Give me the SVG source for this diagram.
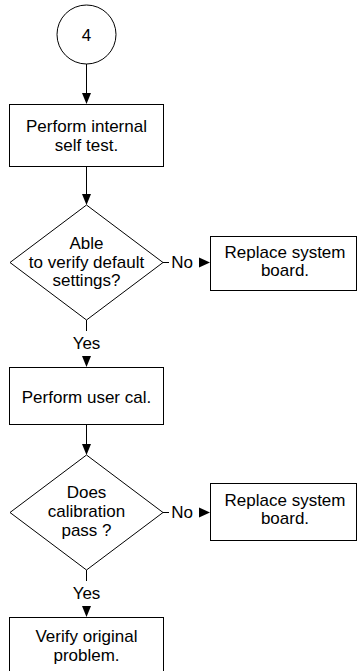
<svg xmlns="http://www.w3.org/2000/svg" width="357" height="671" viewBox="0 0 357 671">
<style>
.s{fill:#fff;stroke:#000;stroke-width:1}
.t{font-family:"Liberation Sans",Arial,sans-serif;font-size:17px;fill:#000;text-anchor:middle}
.c{stroke:#000;stroke-width:1;fill:none}
.h{fill:#000;stroke:none}
</style>
<rect width="357" height="671" fill="#fff"/>
<g id="connectors">
<line class="c" x1="86.5" y1="64" x2="86.5" y2="94"/>
<polygon class="h" points="82,93 91,93 86.5,104"/>
<line class="c" x1="86.5" y1="167" x2="86.5" y2="195"/>
<polygon class="h" points="82,194 91,194 86.5,205"/>
<line class="c" x1="163" y1="262.5" x2="169" y2="262.5"/>
<text class="t" x="182" y="268">No</text>
<polygon class="h" points="199,257.5 199,267.5 210,262.5"/>
<line class="c" x1="86.5" y1="320" x2="86.5" y2="331"/>
<text class="t" x="86.5" y="349">Yes</text>
<polygon class="h" points="82,356 91,356 86.5,367"/>
<line class="c" x1="86.5" y1="425" x2="86.5" y2="445"/>
<polygon class="h" points="82,444 91,444 86.5,455"/>
<line class="c" x1="163" y1="512.5" x2="169" y2="512.5"/>
<text class="t" x="182" y="518">No</text>
<polygon class="h" points="199,507.5 199,517.5 210,512.5"/>
<line class="c" x1="86.5" y1="570" x2="86.5" y2="581"/>
<text class="t" x="86.5" y="599">Yes</text>
<polygon class="h" points="82,606 91,606 86.5,617"/>
</g>
<g id="start">
<circle class="s" cx="86.5" cy="34.5" r="29.5"/>
<text class="t" x="86.5" y="41">4</text>
</g>
<g id="selftest">
<rect class="s" x="9.5" y="104.5" width="154" height="62"/>
<text class="t" x="86.5" y="132">Perform internal</text>
<text class="t" x="86.5" y="151">self test.</text>
</g>
<g id="decision1">
<polygon class="s" points="86.5,205 163,262.5 86.5,320 10,262.5"/>
<text class="t" x="86.5" y="249">Able</text>
<text class="t" x="86.5" y="267.5">to verify default</text>
<text class="t" x="86.5" y="286">settings?</text>
</g>
<g id="replace1">
<rect class="s" x="210.5" y="236.5" width="146" height="54"/>
<text class="t" x="285" y="258">Replace system</text>
<text class="t" x="285" y="276">board.</text>
</g>
<g id="usercal">
<rect class="s" x="9.5" y="367.5" width="154" height="57"/>
<text class="t" x="86.5" y="402.5">Perform user cal.</text>
</g>
<g id="decision2">
<polygon class="s" points="86.5,455 163,512.5 86.5,570 10,512.5"/>
<text class="t" x="86.5" y="498">Does</text>
<text class="t" x="86.5" y="517">calibration</text>
<text class="t" x="86.5" y="536">pass ?</text>
</g>
<g id="replace2">
<rect class="s" x="210.5" y="483.5" width="146" height="57"/>
<text class="t" x="285" y="506">Replace system</text>
<text class="t" x="285" y="524">board.</text>
</g>
<g id="verify">
<rect class="s" x="9.5" y="617.5" width="154" height="60"/>
<text class="t" x="86.5" y="642">Verify original</text>
<text class="t" x="86.5" y="661">problem.</text>
</g>
</svg>
